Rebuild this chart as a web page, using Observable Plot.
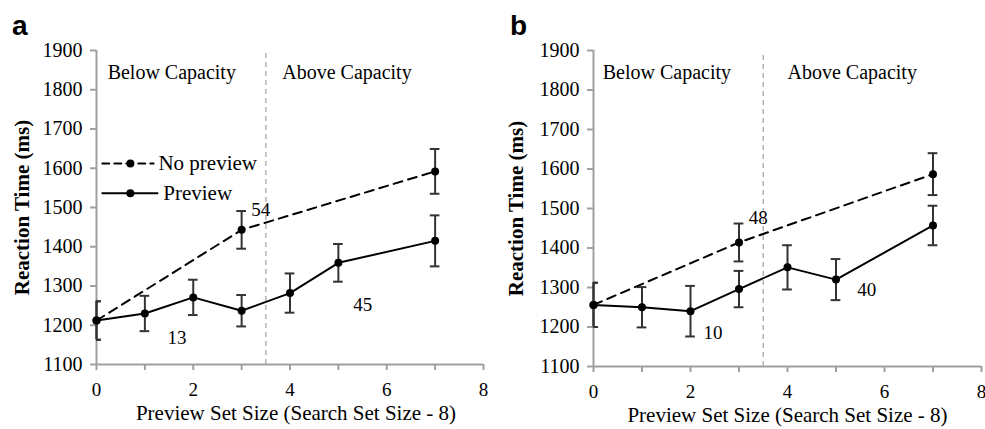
<!DOCTYPE html>
<html><head><meta charset="utf-8">
<script src="https://cdn.jsdelivr.net/npm/d3@7"></script>
<script src="https://cdn.jsdelivr.net/npm/@observablehq/plot@0.6"></script>
<style>
body{margin:0;background:#fff}
#wrap{position:relative;width:985px;height:429px;overflow:hidden;background:#fff}
.panel{position:absolute;top:0}
.plabel{position:absolute;font:bold 28px "Liberation Sans",Arial,sans-serif;line-height:28px;color:#000}
</style></head><body>
<div id="wrap"></div>
<script>
// ---- data ----
const previewSizes = [0, 1, 2, 3, 4, 5, 7];
const noPreviewSizes = [0, 3, 7];
const seriesNames = ["No preview", "Preview"];
const regionLabels = ["Below Capacity", "Above Capacity"];
const yTicks = [1100, 1200, 1300, 1400, 1500, 1600, 1700, 1800, 1900];
const xTicks = [0, 1, 2, 3, 4, 5, 6, 7, 8];
const xTickLabels = [0, 2, 4, 6, 8];
const capacityBoundary = 3.5;
const yLabel = "Reaction Time (ms)";
const xLabel = "Preview Set Size (Search Set Size - 8)";

// panel a
const aPreview = [1212, 1230, 1271, 1237, 1282, 1359, 1415];
const aPreviewErr = [49, 45, 45, 40, 50, 48, 65];
const aNoPreview = [1212, 1443, 1592];
const aNoPreviewErr = [49, 48, 57];
const aSlopes = ["54", "13", "45"];

// panel b
const bPreview = [1256, 1250, 1240, 1296, 1351, 1320, 1457];
const bPreviewErr = [56, 51, 64, 46, 56, 52, 50];
const bNoPreview = [1256, 1414, 1587];
const bNoPreviewErr = [56, 48, 53];
const bSlopes = ["48", "10", "40"];

// ---- drawing ----
const serif = '"Liberation Serif","Times New Roman",serif';
const sans = '"Liberation Sans",Arial,sans-serif';

function panel(cfg) {
  const prev = previewSizes.map((x, i) => ({x, y: cfg.preview[i], e: cfg.previewErr[i]}));
  const noPrev = noPreviewSizes.map((x, i) => ({x, y: cfg.noPreview[i], e: cfg.noPreviewErr[i]}));
  const all = noPrev.concat(prev);
  const cap = 0.1;
  const marks = [
    Plot.ruleX([capacityBoundary], {y1: 1100, y2: 1895, stroke: "#b4b4b4", strokeWidth: 1.5, strokeDasharray: "5,4"}),
    Plot.text(regionLabels, {x: (d, i) => cfg.regionX[i], y: cfg.regionY, text: d => d, textAnchor: "start", fontSize: 20, fontFamily: serif}),
    Plot.ruleY([1100], {stroke: "#a0a0a0", strokeWidth: 2}),
    Plot.axisX({ticks: xTicks, tickSize: 6, stroke: "#a0a0a0", strokeWidth: 2, fill: "none", label: null}),
    Plot.axisX({ticks: xTickLabels, tickFormat: d => String(d), tickSize: 0, tickPadding: 18, label: null, fontSize: 19, fontFamily: serif}),
    Plot.axisY({ticks: yTicks, tickFormat: d => String(d), tickSize: 6, tickPadding: 8, stroke: "#a0a0a0", strokeWidth: 2, label: null, fontSize: 20, fontFamily: serif}),
    Plot.ruleX([0], {stroke: "#a0a0a0", strokeWidth: 2}),
    Plot.ruleX(all, {x: "x", y1: d => d.y - d.e, y2: d => d.y + d.e, stroke: "#333", strokeWidth: 2}),
    Plot.ruleY(all, {y: d => d.y + d.e, x1: d => d.x - cap, x2: d => d.x + cap, stroke: "#333", strokeWidth: 2, clip: true}),
    Plot.ruleY(all, {y: d => d.y - d.e, x1: d => d.x - cap, x2: d => d.x + cap, stroke: "#333", strokeWidth: 2, clip: true}),
    Plot.line(noPrev, {x: "x", y: "y", stroke: "#000", strokeWidth: 2, strokeDasharray: "9,6"}),
    Plot.line(prev, {x: "x", y: "y", stroke: "#000", strokeWidth: 2}),
    Plot.dot(all, {x: "x", y: "y", r: 4, fill: "#000"}),
    Plot.text(cfg.slopes, {x: (d, i) => cfg.slopeX[i], y: (d, i) => cfg.slopeY[i], text: d => d, textAnchor: "start", fontSize: 19, fontFamily: (d, i) => cfg.slopeFont[i]}),
    Plot.text([yLabel], {frameAnchor: "left", dx: cfg.yTitleDx, rotate: -90, textAnchor: "middle", fontWeight: "bold", fontSize: 21, fontFamily: serif}),
    Plot.text([xLabel], {frameAnchor: "bottom", lineAnchor: "middle", dy: 49, dx: cfg.xTitleDx, textAnchor: "middle", fontSize: 21, fontFamily: serif})
  ];
  if (cfg.legend) {
    const L = cfg.legend;
    seriesNames.forEach((name, i) => {
      const row = [{x: L.x1, y: L.y[i]}, {x: L.x2[i], y: L.y[i]}];
      marks.push(Plot.line(row, {x: "x", y: "y", stroke: "#000", strokeWidth: 2, strokeDasharray: i === 0 ? "7,5" : null}));
      marks.push(Plot.dot([{x: L.dotX, y: L.y[i]}], {x: "x", y: "y", r: 4, fill: "#000"}));
      marks.push(Plot.text([name], {x: L.textX[i], y: L.y[i], text: d => d, textAnchor: "start", fontSize: 21, fontFamily: serif}));
    });
  }
  return Plot.plot({
    width: cfg.width, height: 429,
    marginTop: 50, marginBottom: cfg.marginBottom, marginLeft: cfg.marginLeft, marginRight: cfg.marginRight,
    x: {domain: [0, 8], axis: null},
    y: {domain: [1100, 1900], axis: null},
    style: {fontFamily: serif, fontSize: "20px", color: "#000", background: "#fff", overflow: "visible"},
    marks
  });
}

const wrap = document.getElementById("wrap");
const configs = [
  {left: 0, label: "a", labelLeft: 12, preview: aPreview, previewErr: aPreviewErr, noPreview: aNoPreview, noPreviewErr: aNoPreviewErr,
   slopes: aSlopes, slopeX: [3.2, 1.47, 5.31], slopeY: [1493, 1168, 1253], slopeFont: [serif, serif, serif],
   regionX: [0.23, 3.84], regionY: 1844,
   legend: {x1: 0.12, x2: [1.18, 1.26], dotX: 0.7, textX: [1.28, 1.38], y: [1612, 1536]},
   width: 492, marginLeft: 96, marginRight: 9, marginBottom: 65, yTitleDx: -74, xTitleDx: 6},
  {left: 492, label: "b", labelLeft: 510, preview: bPreview, previewErr: bPreviewErr, noPreview: bNoPreview, noPreviewErr: bNoPreviewErr,
   slopes: bSlopes, slopeX: [3.2, 2.27, 5.44], slopeY: [1475, 1184, 1295], slopeFont: [serif, sans, sans],
   regionX: [0.19, 4.0], regionY: 1844,
   legend: null,
   width: 493, marginLeft: 101, marginRight: 4, marginBottom: 63, yTitleDx: -77, xTitleDx: 0}
];
configs.forEach(cfg => {
  const div = document.createElement("div");
  div.className = "panel";
  div.style.left = cfg.left + "px";
  div.appendChild(panel(cfg));
  wrap.appendChild(div);
  const lab = document.createElement("div");
  lab.className = "plabel";
  lab.textContent = cfg.label;
  lab.style.left = cfg.labelLeft + "px";
  lab.style.top = "12px";
  wrap.appendChild(lab);
});
</script>
</body></html>
